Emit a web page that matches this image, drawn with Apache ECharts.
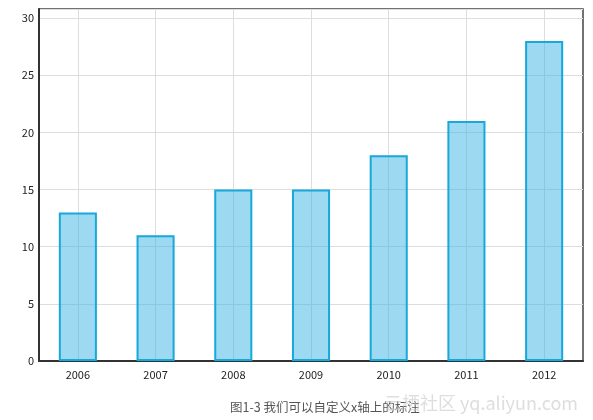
<!DOCTYPE html>
<html>
<head>
<meta charset="utf-8">
<script src="https://cdn.jsdelivr.net/npm/echarts@6/dist/echarts.min.js"></script>
<style>
  html, body { margin: 0; padding: 0; background: #fff; }
  #chart { width: 593px; height: 420px; }
</style>
</head>
<body>
<div id="chart"></div>
<script>
// 数据
var years = ["2006", "2007", "2008", "2009", "2010", "2011", "2012"];
var values = [13, 11, 15, 15, 18, 21, 28];
var caption = "图1-3 我们可以自定义x轴上的标注";
var watermark = "云栖社区 yq.aliyun.com";

var chart = echarts.init(document.getElementById("chart"));
chart.setOption({
  animation: false,
  textStyle: { fontFamily: "Noto Sans CJK SC, sans-serif" },
  title: [
    {
      text: caption,
      left: 225,
      top: 396,
      textStyle: { fontSize: 12.5, fontWeight: "normal", color: "#555" }
    },
    {
      text: watermark,
      right: 10,
      top: 389,
      textStyle: { fontSize: 18, fontWeight: "normal", color: "rgba(200,200,200,0.6)" }
    }
  ],
  grid: {
    left: 39,
    right: 10,
    top: 9,
    bottom: 59,
    show: true,
    borderColor: "#444",
    borderWidth: 1.5
  },
  xAxis: {
    type: "category",
    data: years,
    boundaryGap: true,
    axisLine: { lineStyle: { color: "#333", width: 2 } },
    axisTick: { show: false },
    axisLabel: { color: "#222", fontSize: 11, margin: 8 },
    splitLine: { show: true, alignWithLabel: true, lineStyle: { color: "#ddd" } }
  },
  yAxis: {
    type: "value",
    min: 0,
    max: 30.8,
    interval: 5,
    axisLine: { show: true, lineStyle: { color: "#333", width: 2 } },
    axisTick: { show: false },
    axisLabel: {
      color: "#222",
      fontSize: 11,
      margin: 5,
      showMaxLabel: false
    },
    splitLine: { show: true, lineStyle: { color: "#ddd" } }
  },
  series: [
    {
      type: "bar",
      data: values,
      barWidth: "49%",
      itemStyle: {
        color: "rgba(59,179,225,0.5)",
        borderColor: "#17a8dc",
        borderWidth: 2
      }
    }
  ]
});
</script>
</body>
</html>
